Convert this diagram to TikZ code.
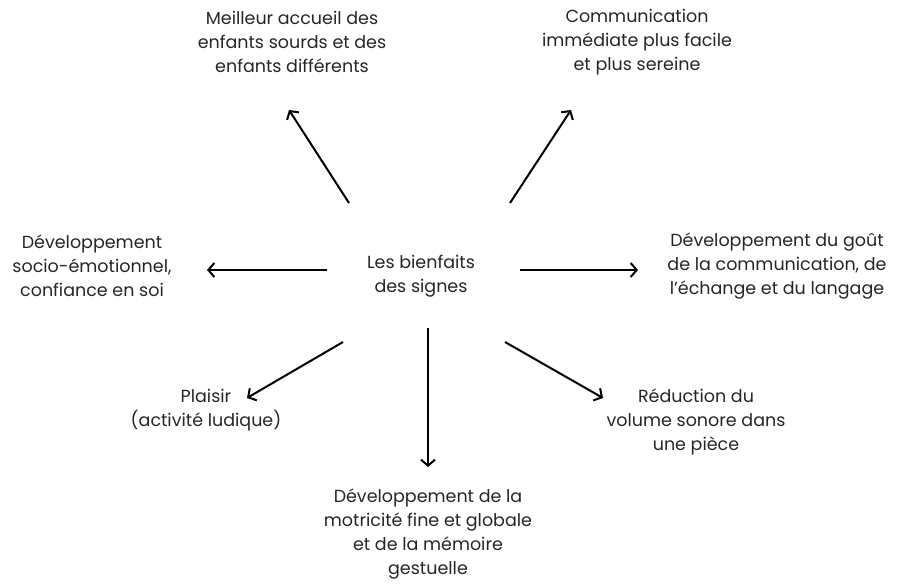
\documentclass[tikz,border=0pt]{standalone}
\usepackage{fontspec}
\setmainfont{Poppins}
\usetikzlibrary{arrows.meta}
\tikzset{
  lbl/.style={align=center, font=\fontsize{17.5}{24}\selectfont, text=black!85, inner sep=0pt},
  flech/.style={-{Straight Barb[length=6pt,width=14pt]}, line width=2pt}
}
\begin{document}
\begin{tikzpicture}[x=1pt,y=-1pt]
\useasboundingbox (0,0) rectangle (901,583);
% centre
\node[lbl] (centre) at (421,276) {Les bienfaits\\des signes};
% bienfaits
\node[lbl] (accueil) at (292,42) {Meilleur accueil des\\enfants sourds et des\\enfants différents};
\node[lbl] (commu) at (637,42) {Communication\\immédiate plus facile\\et plus sereine};
\node[lbl] (socio) at (92,266) {Développement\\socio-émotionnel,\\confiance en soi};
\node[lbl] (gout) at (777,266) {Développement du goût\\de la communication, de\\l'échange et du langage};
\node[lbl] (plaisir) at (206,410) {Plaisir\\(activité ludique)};
\node[lbl] (motri) at (428,534) {Développement de la\\motricité fine et globale\\et de la mémoire\\gestuelle};
\node[lbl] (bruit) at (696,422) {Réduction du\\volume sonore dans\\une pièce};
% bouts des fleches
\coordinate (a1) at (349,203); \coordinate (b1) at (289,110);
\coordinate (a2) at (510,203); \coordinate (b2) at (571,110);
\coordinate (a3) at (327,270); \coordinate (b3) at (207,270);
\coordinate (a4) at (520,270); \coordinate (b4) at (638,270);
\coordinate (a5) at (343,342); \coordinate (b5) at (247,398);
\coordinate (a6) at (428,328); \coordinate (b6) at (428,467);
\coordinate (a7) at (505,342); \coordinate (b7) at (603,398);
\foreach \i in {1,...,7}
  \draw[flech] (a\i) -- (b\i);
\end{tikzpicture}
\end{document}
